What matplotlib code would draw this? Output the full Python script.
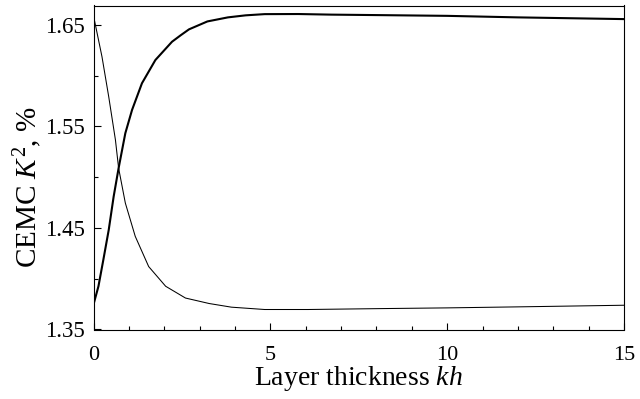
import matplotlib.pyplot as plt
from matplotlib.ticker import MultipleLocator

# толстая кривая (растёт) и тонкая (падает)
kh_up = [0, 0.14, 0.28, 0.43, 0.57, 0.71, 0.9, 1.09, 1.37, 1.75, 2.22, 2.47, 2.7, 3.22,
         3.8, 4.3, 4.84, 5.79, 6.73, 8.15, 10, 12, 15]
k2_up = [1.3746, 1.3926, 1.419, 1.448, 1.481, 1.509, 1.5434, 1.5663, 1.5926, 1.6155, 1.6335,
         1.640, 1.6457, 1.6535, 1.6575, 1.6595, 1.6607, 1.6608, 1.6602, 1.6597, 1.659, 1.6575, 1.6558]

kh_down = [0, 0.03, 0.24, 0.43, 0.62, 0.71, 0.9, 1.18, 1.56, 2.04, 2.6, 3.27, 3.9, 4.84,
           6.07, 8.15, 10, 12, 15]
k2_down = [1.6555, 1.6541, 1.6187, 1.5794, 1.5368, 1.509, 1.4746, 1.4418, 1.412, 1.3926, 1.381,
           1.3756, 1.372, 1.3697, 1.3697, 1.3706, 1.3713, 1.3723, 1.3739]

xticks = [0, 5, 10, 15]
yticks = [1.35, 1.45, 1.55, 1.65]

plt.rcParams['font.family'] = ['Liberation Serif', 'DejaVu Serif']
plt.rcParams['mathtext.fontset'] = 'custom'
plt.rcParams['mathtext.rm'] = 'Liberation Serif'
plt.rcParams['mathtext.it'] = 'Liberation Serif:italic'

fig = plt.figure(figsize=(6.4, 3.99), dpi=100)
ax = fig.add_axes([93.5/640, 1 - 329.5/399, (624-93.5)/640, (329.5-5.5)/399])

ax.plot(kh_up, k2_up, color='black', lw=1.5)
ax.plot(kh_down, k2_down, color='black', lw=0.75)

ax.set_xlim(0, 15)
ax.set_ylim(1.35, 1.6692)
ax.set_xticks(xticks)
ax.set_yticks(yticks)
ax.set_yticklabels(['%.2f' % v for v in yticks])
ax.xaxis.set_minor_locator(MultipleLocator(1))
ax.yaxis.set_minor_locator(MultipleLocator(0.05))
ax.tick_params(which='both', direction='in', top=False, right=False, labelsize=16.5, width=0.8)
ax.tick_params(which='major', length=5)
ax.tick_params(which='minor', length=3)
ax.tick_params(axis='x', pad=12, labelsize=16)
ax.tick_params(axis='y', pad=6.5)
for s in ax.spines.values():
    s.set_linewidth(0.8)

ax.set_xlabel('Layer thickness $kh$', fontsize=20, labelpad=-0.5)
ax.set_ylabel('CEMC $K^2$, %', fontsize=21)
ax.yaxis.set_label_coords(-0.094, 0.44)

fig.savefig('out.png', dpi=100)
